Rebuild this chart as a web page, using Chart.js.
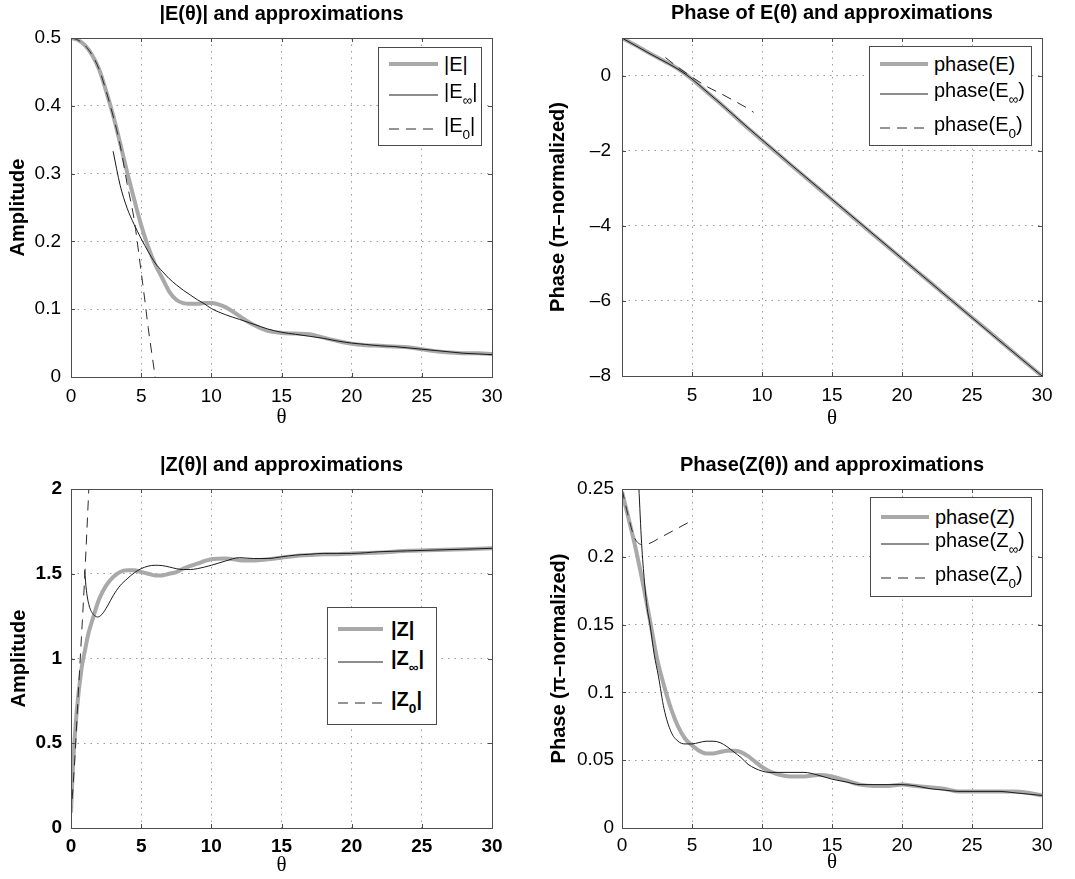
<!DOCTYPE html>
<html lang="en">
<head>
<meta charset="UTF-8">
<title>E(θ) and Z(θ) approximations</title>
<script src="https://cdn.jsdelivr.net/npm/chart.js"></script>
<style>
  html, body { margin: 0; padding: 0; background: #fff; }
  #fig { position: relative; width: 1075px; height: 879px; overflow: hidden; font-family: 'Liberation Sans', Arial, sans-serif; }
  #fig canvas { position: absolute; }
  .legend { position: absolute; background: #fff; border: 1px solid #4a4a4a; box-sizing: border-box; }
  .legend .row { position: absolute; left: 0; right: 0; height: 40px; display: flex; align-items: center; }
  .legend .txt { font-size: 20px; white-space: nowrap; color: #000; line-height: 1; }
  .legend.bold .txt { font-weight: bold; }
  .legend sub { font-size: 68%; vertical-align: -0.55em; }
</style>
</head>
<body>
<div id="fig"></div>
<script>
// ---------- |E(θ)| ----------
const thE     = [0, 0.5, 1, 1.5, 2, 2.5, 3, 3.5, 4, 4.5, 5, 5.5, 6, 6.5, 7, 7.5, 8, 8.5, 9, 9.5, 10, 10.5, 11, 11.5, 12, 12.5, 13, 13.5, 14, 15, 16, 17, 18, 19, 20, 21, 22, 23, 24, 25, 26, 27, 28, 29, 30];
const magE    = [0.500, 0.497, 0.489, 0.475, 0.454, 0.422, 0.386, 0.345, 0.302, 0.262, 0.224, 0.192, 0.166, 0.146, 0.126, 0.114, 0.109, 0.108, 0.108, 0.109, 0.109, 0.107, 0.103, 0.097, 0.090, 0.083, 0.077, 0.072, 0.068, 0.065, 0.064, 0.063, 0.058, 0.053, 0.049, 0.047, 0.046, 0.045, 0.044, 0.041, 0.038, 0.036, 0.035, 0.035, 0.034];
const thEinf  = [3, 3.5, 4, 4.5, 5, 5.5, 6, 6.5, 7, 7.5, 8, 8.5, 9, 9.5, 10, 11, 12, 13, 14, 15, 16, 17, 18, 19, 20, 21, 22, 23, 24, 25, 26, 27, 28, 29, 30];
const magEinf = [0.333, 0.283, 0.249, 0.225, 0.204, 0.185, 0.168, 0.156, 0.145, 0.136, 0.128, 0.121, 0.114, 0.108, 0.101, 0.092, 0.085, 0.078, 0.071, 0.066, 0.063, 0.060, 0.057, 0.053, 0.050, 0.048, 0.046, 0.045, 0.043, 0.041, 0.039, 0.037, 0.035, 0.034, 0.033];
const thE0    = [0, 0.5, 1, 1.5, 2, 2.5, 3, 3.5, 4, 4.5, 5, 5.25, 5.5, 5.75, 6];
const magE0   = [0.500, 0.497, 0.489, 0.475, 0.454, 0.422, 0.385, 0.342, 0.285, 0.232, 0.155, 0.115, 0.073, 0.036, 0.0];
const legMagE = ['|E|', '|E<sub>∞</sub>|', '|E<sub>0</sub>|'];

// ---------- phase of E(θ) ----------
const thPhE   = [0, 1, 2, 3, 4, 5, 6, 7, 8, 9, 10, 12, 14, 16, 18, 20, 22, 24, 26, 28, 30];
const phE     = [1.0, 0.8, 0.59, 0.39, 0.18, -0.1, -0.42, -0.74, -1.07, -1.4, -1.72, -2.36, -2.99, -3.62, -4.25, -4.88, -5.5, -6.13, -6.75, -7.38, -8.0];
const phEinf  = [1.0, 0.79, 0.58, 0.38, 0.17, -0.09, -0.41, -0.73, -1.06, -1.39, -1.71, -2.35, -2.98, -3.61, -4.24, -4.87, -5.5, -6.13, -6.76, -7.38, -8.0];
const thPhE0  = [3.1, 4, 5, 6, 7, 8, 9, 9.4];
const phE0    = [0.48, 0.22, -0.04, -0.28, -0.47, -0.67, -0.88, -0.98];
const legPhE  = ['phase(E)', 'phase(E<sub>∞</sub>)', 'phase(E<sub>0</sub>)'];

// ---------- |Z(θ)| ----------
const thZ     = [0, 0.15, 0.4, 0.75, 1, 1.25, 1.5, 2, 2.5, 3, 3.5, 4, 4.5, 5, 5.5, 6, 6.5, 7, 7.5, 8, 9, 10, 11, 12, 13, 14, 15, 16, 17, 18, 19, 20, 22, 24, 26, 28, 30];
const magZ    = [0.09, 0.38, 0.68, 0.94, 1.05, 1.15, 1.22, 1.35, 1.43, 1.48, 1.51, 1.52, 1.52, 1.51, 1.50, 1.49, 1.49, 1.50, 1.51, 1.53, 1.56, 1.585, 1.59, 1.58, 1.578, 1.585, 1.595, 1.605, 1.61, 1.615, 1.615, 1.62, 1.625, 1.635, 1.64, 1.645, 1.65];
const thZinf  = [0.97, 1.1, 1.3, 1.6, 1.9, 2.2, 2.6, 3, 3.5, 4, 4.5, 5, 5.5, 6, 6.5, 7, 7.5, 8, 8.5, 9, 10, 11, 12, 13, 14, 15, 16, 17, 18, 19, 20, 22, 24, 26, 28, 30];
const magZinf = [1.52, 1.40, 1.31, 1.26, 1.245, 1.26, 1.31, 1.37, 1.43, 1.47, 1.505, 1.53, 1.545, 1.55, 1.548, 1.54, 1.53, 1.525, 1.525, 1.53, 1.55, 1.575, 1.595, 1.59, 1.59, 1.6, 1.61, 1.615, 1.62, 1.62, 1.62, 1.63, 1.635, 1.64, 1.645, 1.65];
const thZ0    = [0, 0.28, 0.51, 0.74, 0.97, 1.13, 1.27, 1.3];
const magZ0   = [0.07, 0.42, 0.78, 1.12, 1.47, 1.75, 2.0, 2.05];
const legMagZ = ['|Z|', '|Z<sub>∞</sub>|', '|Z<sub>0</sub>|'];

// ---------- phase of Z(θ) ----------
const thPZ    = [0, 0.5, 1, 1.5, 2, 2.5, 3, 3.5, 4, 4.5, 5, 5.5, 6, 6.5, 7, 7.5, 8, 8.5, 9, 9.5, 10, 10.5, 11, 12, 13, 14, 15, 16, 17, 18, 19, 20, 21, 22, 23, 24, 25, 26, 27, 28, 29, 30];
const phZ     = [0.248, 0.227, 0.205, 0.18, 0.153, 0.125, 0.105, 0.088, 0.075, 0.066, 0.061, 0.057, 0.055, 0.055, 0.056, 0.057, 0.057, 0.056, 0.053, 0.049, 0.045, 0.042, 0.040, 0.038, 0.038, 0.039, 0.038, 0.035, 0.032, 0.031, 0.031, 0.032, 0.031, 0.030, 0.029, 0.027, 0.027, 0.027, 0.027, 0.027, 0.026, 0.024];
const thPZinf = [1.2, 1.4, 1.6, 1.8, 2, 2.3, 2.6, 3, 3.5, 4, 4.5, 5, 5.5, 6, 6.5, 7, 7.5, 8, 8.5, 9, 9.5, 10, 10.5, 11, 12, 13, 14, 15, 16, 17, 18, 19, 20, 21, 22, 23, 24, 25, 26, 27, 28, 29, 30];
const phZinf  = [0.252, 0.21, 0.182, 0.162, 0.15, 0.128, 0.112, 0.088, 0.071, 0.064, 0.062, 0.062, 0.063, 0.064, 0.064, 0.063, 0.06, 0.056, 0.052, 0.047, 0.044, 0.042, 0.041, 0.041, 0.041, 0.041, 0.039, 0.036, 0.034, 0.032, 0.032, 0.032, 0.032, 0.031, 0.029, 0.028, 0.027, 0.027, 0.027, 0.027, 0.026, 0.025, 0.024];
const thPZ0   = [0, 0.4, 0.9, 1.5, 2, 2.6, 3.7, 4.95];
const phZ0    = [0.25, 0.232, 0.214, 0.209, 0.21, 0.2134, 0.2195, 0.2265];
const legPhZ  = ['phase(Z)', 'phase(Z<sub>∞</sub>)', 'phase(Z<sub>0</sub>)'];

// line styles: exact (thick grey), large-θ approx (thin black), small-θ approx (dashed)
const styleExact = { borderColor: '#a9a9a9', borderWidth: 4, order: 3 };
const styleInf   = { borderColor: '#1a1a1a', borderWidth: 1, order: 2 };
const styleZero  = { borderColor: '#2a2a2a', borderWidth: 1, borderDash: [10, 7], order: 1 };

Chart.defaults.font.family = "'Liberation Sans', Arial, sans-serif";
Chart.defaults.color = '#000';

const fig = document.getElementById('fig');
const pts = (xs, ys) => xs.map((x, i) => ({ x: x, y: ys[i] }));
const stripTags = s => s.replace(/<[^>]+>/g, '');

// axes box with inward tick marks, MATLAB style
const framePlugin = {
    id: 'frame',
    afterDatasetsDraw(chart) {
        const { ctx, chartArea: a, scales: { x, y } } = chart;
        ctx.save();
        ctx.strokeStyle = '#4d4d4d';
        ctx.lineWidth = 1;
        ctx.beginPath();
        x.ticks.forEach(t => {
            const px = Math.round(x.getPixelForValue(t.value)) + 0.5;
            ctx.moveTo(px, a.bottom); ctx.lineTo(px, a.bottom - 4);
            ctx.moveTo(px, a.top); ctx.lineTo(px, a.top + 4);
        });
        y.ticks.forEach(t => {
            const py = Math.round(y.getPixelForValue(t.value)) + 0.5;
            ctx.moveTo(a.left, py); ctx.lineTo(a.left + 4, py);
            ctx.moveTo(a.right, py); ctx.lineTo(a.right - 4, py);
        });
        ctx.stroke();
        ctx.strokeRect(Math.round(a.left) + 0.5, Math.round(a.top) + 0.5,
                       Math.round(a.right - a.left), Math.round(a.bottom - a.top));
        ctx.restore();
    }
};

// matlab-like tick text: no trailing zeros, en dash for minus
function numLabel(v) {
    return String(Math.round(v * 1e6) / 1e6).replace('-', '–');
}

function makePanel(p) {
    const cv = document.createElement('canvas');
    cv.width = p.box.w;
    cv.height = p.box.h;
    cv.style.left = p.box.x + 'px';
    cv.style.top = p.box.y + 'px';
    fig.appendChild(cv);

    const tickFont = { size: 19, weight: p.bold ? 'bold' : 'normal' };
    const datasets = p.series.map(s => Object.assign({
        label: stripTags(s.label),
        data: pts(s.x, s.y),
        pointRadius: 0,
        fill: false,
        cubicInterpolationMode: 'monotone'
    }, s.style));

    const chart = new Chart(cv, {
        type: 'line',
        data: { datasets: datasets },
        options: {
            responsive: false,
            animation: false,
            events: [],
            layout: { padding: { left: 0, top: 0, bottom: 0, right: p.box.w - p.area.r } },
            plugins: {
                legend: { display: false },
                tooltip: { enabled: false },
                title: {
                    display: true,
                    text: p.title,
                    fullSize: false,
                    color: '#000',
                    font: { size: 20, weight: 'bold' },
                    padding: { top: p.titleTop, bottom: p.area.t - p.titleTop - 24 }
                }
            },
            scales: {
                x: {
                    type: 'linear', min: 0, max: 30,
                    ticks: {
                        stepSize: 5, padding: p.xTickPad, font: tickFont, color: '#000', maxRotation: 0,
                        callback: v => (p.hideX0 && v === 0) ? '' : numLabel(v)
                    },
                    grid: { color: '#9a9a9a', drawTicks: false },
                    border: { display: false, dash: [1.5, 5] },
                    title: {
                        display: true, text: 'θ', color: '#000',
                        font: { family: "'Liberation Serif', 'DejaVu Serif', serif", size: 21 },
                        padding: { top: 0, bottom: p.xTitlePad }
                    },
                    afterFit: s => { s.height = p.box.h - p.area.b; }
                },
                y: {
                    type: 'linear', min: p.yMin, max: p.yMax,
                    ticks: { stepSize: p.yStep, includeBounds: false, padding: p.yTickPad, font: tickFont, color: '#000', callback: v => numLabel(v) },
                    grid: { color: '#9a9a9a', drawTicks: false },
                    border: { display: false, dash: [1.5, 5] },
                    title: {
                        display: true, text: p.yTitle, color: '#000',
                        font: { size: 20, weight: 'bold' },
                        padding: { top: p.yTitlePad, bottom: 0 }
                    },
                    afterFit: s => { s.width = p.area.l; }
                }
            }
        },
        plugins: [framePlugin]
    });

    // legend with subscripts, built from the chart's datasets
    const L = p.legend;
    const box = document.createElement('div');
    box.className = 'legend' + (p.bold ? ' bold' : '');
    box.style.left = (p.box.x + L.x) + 'px';
    box.style.top = (p.box.y + L.y) + 'px';
    box.style.width = L.w + 'px';
    box.style.height = L.h + 'px';
    chart.data.datasets.forEach((ds, i) => {
        const row = document.createElement('div');
        row.className = 'row';
        row.style.top = (L.rows[i] - 20) + 'px';
        const dash = ds.borderDash ? ` stroke-dasharray="${ds.borderDash.join(' ')}"` : '';
        row.innerHTML =
            `<svg width="${L.sw}" height="8" style="flex:none;margin-left:${L.pad}px;margin-right:${L.gap}px">` +
            `<line x1="0" y1="4" x2="${L.sw}" y2="4" stroke="${ds.borderColor}" stroke-width="${ds.borderWidth}"${dash}/></svg>` +
            `<span class="txt">${p.series[i].label}</span>`;
        box.appendChild(row);
    });
    fig.appendChild(box);
    return chart;
}

makePanel({
    box: { x: 0, y: 0, w: 537, h: 440 }, area: { l: 71, t: 38, r: 492, b: 377 },
    title: '|E(θ)| and approximations', titleTop: 2,
    yTitle: 'Amplitude', yMin: 0, yMax: 0.5, yStep: 0.1,
    xTickPad: 8, xTitlePad: 10, yTickPad: 10, yTitlePad: 6,
    series: [
        { label: legMagE[0], x: thE, y: magE, style: styleExact },
        { label: legMagE[1], x: thEinf, y: magEinf, style: styleInf },
        { label: legMagE[2], x: thE0, y: magE0, style: styleZero }
    ],
    legend: { x: 378, y: 47, w: 104, h: 99, rows: [16, 47, 81], sw: 49, pad: 10, gap: 6 }
});

makePanel({
    box: { x: 537, y: 0, w: 538, h: 440 }, area: { l: 85, t: 38, r: 505, b: 376 },
    title: 'Phase of E(θ) and approximations', titleTop: 1,
    yTitle: 'Phase (π–normalized)', yMin: -8, yMax: 1, yStep: 2, hideX0: true,
    xTickPad: 8, xTitlePad: 9, yTickPad: 11, yTitlePad: 9,
    series: [
        { label: legPhE[0], x: thPhE, y: phE, style: styleExact },
        { label: legPhE[1], x: thPhE, y: phEinf, style: styleInf },
        { label: legPhE[2], x: thPhE0, y: phE0, style: styleZero }
    ],
    legend: { x: 332, y: 46, w: 163, h: 100, rows: [17, 47, 81], sw: 48, pad: 10, gap: 6 }
});

makePanel({
    box: { x: 0, y: 440, w: 537, h: 439 }, area: { l: 71, t: 49, r: 492, b: 388 },
    title: '|Z(θ)| and approximations', titleTop: 13, bold: true,
    yTitle: 'Amplitude', yMin: 0, yMax: 2, yStep: 0.5,
    xTickPad: 7, xTitlePad: 1, yTickPad: 9, yTitlePad: 7,
    series: [
        { label: legMagZ[0], x: thZ, y: magZ, style: styleExact },
        { label: legMagZ[1], x: thZinf, y: magZinf, style: styleInf },
        { label: legMagZ[2], x: thZ0, y: magZ0, style: styleZero }
    ],
    legend: { x: 327, y: 167, w: 110, h: 118, rows: [21, 54, 95], sw: 45, pad: 10, gap: 8 }
});

makePanel({
    box: { x: 537, y: 440, w: 538, h: 439 }, area: { l: 85, t: 49, r: 505, b: 388 },
    title: 'Phase(Z(θ)) and approximations', titleTop: 13,
    yTitle: 'Phase (π–normalized)', yMin: 0, yMax: 0.25, yStep: 0.05,
    xTickPad: 6, xTitlePad: 4, yTickPad: 8, yTitlePad: 10,
    series: [
        { label: legPhZ[0], x: thPZ, y: phZ, style: styleExact },
        { label: legPhZ[1], x: thPZinf, y: phZinf, style: styleInf },
        { label: legPhZ[2], x: thPZ0, y: phZ0, style: styleZero }
    ],
    legend: { x: 333, y: 57, w: 162, h: 100, rows: [19, 46, 80], sw: 48, pad: 10, gap: 6 }
});
</script>
</body>
</html>
